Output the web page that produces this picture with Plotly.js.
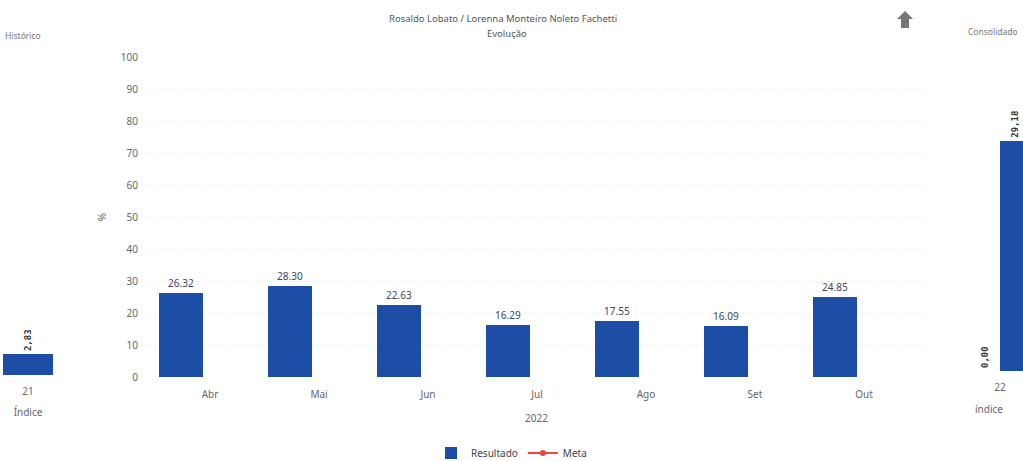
<!DOCTYPE html>
<html>
<head>
<meta charset="utf-8">
<script src="https://cdn.plot.ly/plotly-3.0.1.min.js"></script>
<style>html,body{margin:0;padding:0;background:#fff;}#chart{width:1023px;height:461px;}</style>
</head>
<body>
<div id="chart"></div>
<script>
// ---- data ----
const months = ["Abr", "Mai", "Jun", "Jul", "Ago", "Set", "Out"];
const resultado = [26.32, 28.30, 22.63, 16.29, 17.55, 16.09, 24.85];
const meta = [null, null, null, null, null, null, null];
const histCategory = ["21"];
const histValue = [2.83];
const consCategory = ["22"];
const consMeta = [0.00];
const consValue = [29.18];
const titleLine1 = "Rosaldo Lobato / Lorenna Monteiro Noleto Fachetti";
const titleLine2 = "Evolução";
const xTitle = "2022";

// ---- layout helpers ----
const W = 1023, H = 461;
const px = x => x / W;
const py = y => 1 - y / H;
const BLUE = "#1c4ea6";
const GREY = "#666";
const FONT = "Noto Sans, DejaVu Sans, sans-serif";
const fmtComma = v => v.toFixed(2).replace(".", ",");
const sideFont = {size: 9, color: "#333", family: "DejaVu Sans Mono, monospace", weight: "bold"};

const traces = [
  {
    type: "bar", name: "Resultado", x: months, y: resultado,
    marker: {color: BLUE}, width: 0.4,
    text: resultado.map(v => v.toFixed(2)), textposition: "outside",
    textfont: {size: 10, color: "#3a4766", family: FONT},
    cliponaxis: false, xaxis: "x", yaxis: "y"
  },
  {
    type: "scatter", mode: "lines+markers", name: "Meta", x: months, y: meta,
    line: {color: "#e8473e", width: 2}, marker: {color: "#e8473e", size: 6},
    xaxis: "x", yaxis: "y"
  },
  {
    type: "bar", name: "Histórico", x: histCategory, y: histValue, showlegend: false,
    marker: {color: BLUE}, width: 1,
    text: histValue.map(fmtComma), textposition: "outside", textangle: -90,
    textfont: sideFont, cliponaxis: false, xaxis: "x2", yaxis: "y2"
  },
  {
    type: "bar", name: "Consolidado Meta", x: consCategory, y: consMeta, showlegend: false,
    marker: {color: BLUE}, width: 0.43, offset: -0.43,
    text: consMeta.map(fmtComma), textposition: "outside", textangle: -90,
    textfont: sideFont, cliponaxis: false, xaxis: "x3", yaxis: "y3"
  },
  {
    type: "bar", name: "Consolidado", x: consCategory, y: consValue, showlegend: false,
    marker: {color: BLUE}, width: 0.43, offset: 0,
    text: consValue.map(fmtComma), textposition: "outside", textangle: -90,
    textfont: sideFont, cliponaxis: false, xaxis: "x3", yaxis: "y3"
  }
];

const yBottom = py(377), yTop = py(57);

const layout = {
  width: W, height: H,
  margin: {l: 0, r: 0, t: 0, b: 0, autoexpand: false},
  paper_bgcolor: "#fff", plot_bgcolor: "#fff",
  font: {family: FONT, color: GREY, size: 10},
  showlegend: true,
  legend: {orientation: "h", x: 0.5, xanchor: "center",
           y: py(453), yanchor: "middle",
           font: {size: 10, color: "#444"}, traceorder: "normal", itemwidth: 30},
  bargap: 0,
  xaxis: {
    domain: [px(148), px(925)], type: "category", range: [-0.303, 6.826],
    showgrid: false, zeroline: false, showline: false, ticks: "",
    ticklabelshift: 29, ticklabelstandoff: 10, automargin: false,
    tickfont: {size: 10, color: GREY},
    title: {text: xTitle, font: {size: 10, color: GREY}, standoff: 14},
    anchor: "y"
  },
  yaxis: {
    domain: [yBottom, yTop], range: [0, 100], dtick: 10,
    showgrid: true, gridcolor: "#eeeeee", griddash: "dot", zeroline: false,
    showline: false, ticks: "", ticklabelstandoff: 9, automargin: false,
    tickfont: {size: 10, color: GREY},
    title: {text: "%", font: {size: 10, color: GREY}, standoff: 12},
    anchor: "x"
  },
  xaxis2: {
    domain: [px(3), px(53)], type: "category", range: [-0.5, 0.5],
    showgrid: false, zeroline: false, showline: false, ticks: "",
    ticklabelstandoff: 9, automargin: false,
    tickfont: {size: 10, color: GREY},
    title: {text: "Índice", font: {size: 10, color: GREY}, standoff: 11},
    anchor: "y2"
  },
  yaxis2: {
    domain: [py(375), yTop], range: [0, 43], visible: false, anchor: "x2"
  },
  xaxis3: {
    domain: [px(955), 1], type: "category", range: [-0.643, 0.329],
    showgrid: false, zeroline: false, showline: false, ticks: "",
    ticklabelstandoff: 9, automargin: false,
    tickfont: {size: 10, color: GREY},
    title: {text: "índice", font: {size: 10, color: GREY}, standoff: 12},
    anchor: "y3"
  },
  yaxis3: {
    domain: [py(371), yTop], range: [0, 39.8], visible: false, anchor: "x3"
  },
  annotations: [
    {text: titleLine1, x: px(503), y: py(10), xref: "paper", yref: "paper",
     showarrow: false, font: {size: 9.5, color: "#555"}},
    {text: titleLine2, x: px(507), y: py(25), xref: "paper", yref: "paper",
     showarrow: false, font: {size: 9.5, color: "#555"}},
    {text: "Histórico", x: px(3), y: py(28), xref: "paper", yref: "paper",
     xanchor: "left", showarrow: false, font: {size: 8.5, color: "#777"}},
    {text: "Consolidado", x: px(966), y: py(24), xref: "paper", yref: "paper",
     xanchor: "left", showarrow: false, font: {size: 8.5, color: "#777"}}
  ],
  shapes: [
    {type: "path", xref: "paper", yref: "paper", fillcolor: "#777", line: {width: 0},
     path: `M ${px(905)} ${py(11)} L ${px(913)} ${py(19)} L ${px(909)} ${py(19)} L ${px(909)} ${py(28)} L ${px(901)} ${py(28)} L ${px(901)} ${py(19)} L ${px(897)} ${py(19)} Z`}
  ]
};

Plotly.newPlot("chart", traces, layout, {displayModeBar: false, staticPlot: true});
</script>
</body>
</html>
